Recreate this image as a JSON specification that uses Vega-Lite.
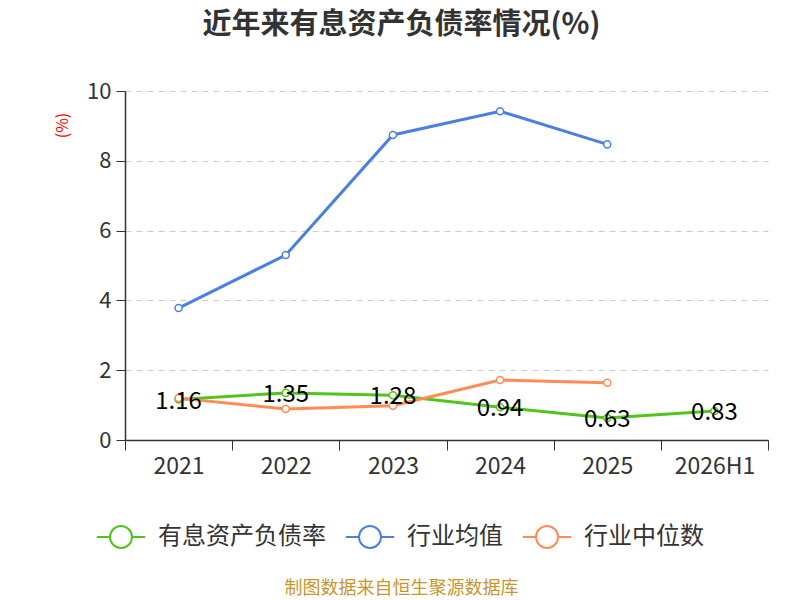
{
  "$schema": "https://vega.github.io/schema/vega-lite/v6.json",
  "width": 643,
  "height": 349,
  "autosize": {"type": "none"},
  "padding": {"left": 125, "top": 91, "right": 32, "bottom": 160},
  "background": "white",
  "title": {
    "text": "近年来有息资产负债率情况(%)",
    "font": "Noto Sans CJK SC",
    "fontSize": 29,
    "fontWeight": "bold",
    "color": "#333333",
    "anchor": "middle",
    "frame": "group",
    "dx": -45,
    "offset": 40
  },
  "config": {
    "view": {"stroke": null},
    "font": "Noto Sans CJK SC"
  },
  "data": {
    "values": [
      {"year": "2021", "series": "有息资产负债率", "value": 1.16},
      {"year": "2022", "series": "有息资产负债率", "value": 1.35},
      {"year": "2023", "series": "有息资产负债率", "value": 1.28},
      {"year": "2024", "series": "有息资产负债率", "value": 0.94},
      {"year": "2025", "series": "有息资产负债率", "value": 0.63},
      {"year": "2026H1", "series": "有息资产负债率", "value": 0.83},
      {"year": "2021", "series": "行业均值", "value": 3.78},
      {"year": "2022", "series": "行业均值", "value": 5.3},
      {"year": "2023", "series": "行业均值", "value": 8.74},
      {"year": "2024", "series": "行业均值", "value": 9.42},
      {"year": "2025", "series": "行业均值", "value": 8.47},
      {"year": "2021", "series": "行业中位数", "value": 1.2},
      {"year": "2022", "series": "行业中位数", "value": 0.89},
      {"year": "2023", "series": "行业中位数", "value": 0.98},
      {"year": "2024", "series": "行业中位数", "value": 1.72},
      {"year": "2025", "series": "行业中位数", "value": 1.64}
    ]
  },
  "encoding": {
    "x": {
      "field": "year",
      "type": "ordinal",
      "sort": null,
      "scale": {"type": "band", "paddingInner": 0, "paddingOuter": 0},
      "axis": {
        "title": "制图数据来自恒生聚源数据库",
        "titleColor": "#c8962a",
        "titleFontSize": 18,
        "titleFontWeight": "normal",
        "titleX": 276,
        "titleY": 148,
        "titleAlign": "center",
        "titleBaseline": "middle",
        "labelAngle": 0,
        "labelFontSize": 23,
        "labelColor": "#333333",
        "labelPadding": 5,
        "tickBand": "extent",
        "tickSize": 10,
        "tickColor": "#333333",
        "domainColor": "#333333",
        "domainWidth": 1.5,
        "grid": false
      }
    },
    "y": {
      "field": "value",
      "type": "quantitative",
      "scale": {"domain": [0, 10]},
      "axis": {
        "values": [0, 2, 4, 6, 8, 10],
        "title": "(%)",
        "titleColor": "#ff0000",
        "titleFontSize": 16,
        "titleFontWeight": "normal",
        "titleAngle": -90,
        "titleX": -63,
        "titleY": 34,
        "titleAlign": "center",
        "titleBaseline": "middle",
        "labelFontSize": 22,
        "labelColor": "#333333",
        "labelPadding": 5,
        "tickSize": 9,
        "tickColor": "#333333",
        "domainColor": "#333333",
        "domainWidth": 1.5,
        "grid": true,
        "gridColor": "#cccccc",
        "gridDash": [6, 5],
        "gridWidth": 1.2
      }
    }
  },
  "layer": [
    {
      "mark": {"type": "line", "strokeWidth": 3},
      "encoding": {
        "color": {
          "field": "series",
          "type": "nominal",
          "sort": ["有息资产负债率", "行业均值", "行业中位数"],
          "scale": {
            "domain": ["有息资产负债率", "行业均值", "行业中位数"],
            "range": ["#52c41a", "#4a80e2", "#ff8c55"]
          },
          "legend": {
            "orient": "none",
            "direction": "horizontal",
            "legendX": -16,
            "legendY": 434,
            "title": null,
            "symbolType": "M-2.2,0L-1,0M1,0L2.2,0M1,0A1,1,0,1,1,-1,0A1,1,0,1,1,1,0",
            "symbolSize": 484,
            "symbolFillColor": "white",
            "symbolStrokeWidth": 2,
            "labelFontSize": 24,
            "labelColor": "#333333",
            "labelLimit": 300,
            "labelOffset": 25,
            "columnPadding": 15
          }
        },
        "order": {"field": "series"}
      }
    },
    {
      "mark": {"type": "point", "filled": true, "fill": "white", "size": 50, "strokeWidth": 1.5, "opacity": 1},
      "encoding": {
        "stroke": {
          "field": "series",
          "type": "nominal",
          "scale": {
            "domain": ["有息资产负债率", "行业均值", "行业中位数"],
            "range": ["#52c41a", "#4a80e2", "#ff8c55"]
          },
          "legend": null
        }
      }
    },
    {
      "transform": [{"filter": "datum.series === '有息资产负债率'"}],
      "mark": {"type": "text", "fontSize": 24, "color": "#000000", "baseline": "middle", "dy": 2},
      "encoding": {
        "text": {"field": "value", "type": "quantitative", "format": ".2f"}
      }
    }
  ]
}
